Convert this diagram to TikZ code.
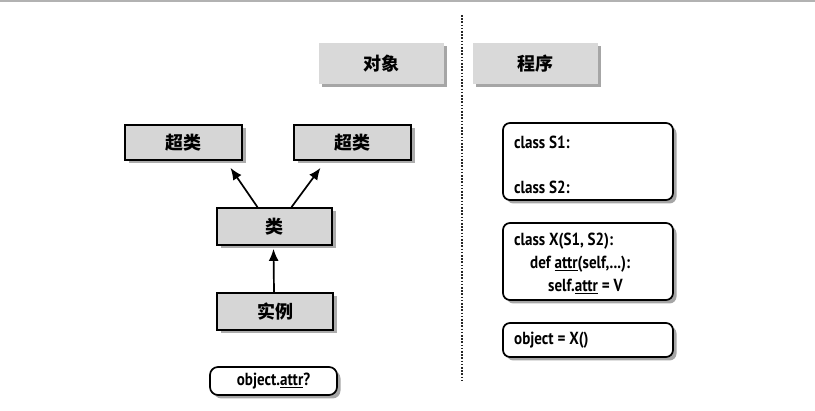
\documentclass[tikz,border=0pt]{standalone}
\usepackage{fontspec}
\setmainfont{PT Sans}[FakeStretch=0.86]
\newfontfamily\cjk{Noto Sans CJK SC}
\usetikzlibrary{shadows,arrows.meta}
\begin{document}
\begin{tikzpicture}[x=1pt,y=-1pt,
  headbox/.style={fill=gray!30, minimum width=125pt, minimum height=41pt, inner sep=0pt,
    drop shadow={shadow xshift=2.5pt, shadow yshift=-2.5pt, opacity=0.7},
    font=\cjk\bfseries\fontsize{18}{18}\selectfont},
  graybox/.style={draw=black, line width=1.7pt, fill=gray!32, inner sep=0pt,
    drop shadow={shadow xshift=3.5pt, shadow yshift=-3.5pt, opacity=0.65},
    font=\cjk\bfseries\fontsize{18}{18}\selectfont},
  codebox/.style={draw=black, line width=1.7pt, fill=white, rounded corners=7pt, inner sep=0pt,
    minimum width=170pt,
    drop shadow={shadow xshift=3.5pt, shadow yshift=-3.5pt, opacity=0.7}},
  codetext/.style={anchor=west, inner sep=0pt, font=\bfseries\fontsize{17.5}{17.5}\selectfont},
  arr/.style={line width=1.7pt, -{Latex[length=12pt,width=10pt]}},
  dotline/.style={line width=1.8pt, dash pattern=on 1.6pt off 1.6pt, gray!30!black}
]
\useasboundingbox (0,0) rectangle (815,411);
\draw[gray!60, line width=2pt] (0,1) -- (815,1);
\coordinate (dtop) at (462,15);
\coordinate (dbot) at (462,382);
\draw[dotline] (dtop) -- (dbot);

\node[headbox] (hobj) at (381.5,64) {对象};
\node[headbox] (hprog) at (535.5,64) {程序};

\node[graybox, minimum width=117pt, minimum height=35pt] (sup1) at (183.5,142.5) {超类};
\node[graybox, minimum width=117pt, minimum height=35pt] (sup2) at (352.5,142.5) {超类};
\node[graybox, minimum width=115pt, minimum height=37pt] (cls) at (274.5,226.5) {类};
\node[graybox, minimum width=116pt, minimum height=37pt] (inst) at (275,311.5) {实例};
\node[codebox, minimum width=127pt, minimum height=28pt, rounded corners=8pt,
  font=\bfseries\fontsize{17.5}{17.5}\selectfont] (query) at (273.5,381) {object.\underline{attr}?};

\draw[arr] ([xshift=-17pt]cls.north) -- ([xshift=47pt,yshift=-7pt]sup1.south);
\draw[arr] ([xshift=17pt]cls.north) -- ([xshift=-32pt,yshift=-7pt]sup2.south);
\draw[arr] ([xshift=-1pt]inst.north) -- ([xshift=-1pt,yshift=-3pt]cls.south);

\node[codebox, minimum height=77pt] (codeS) at (588,161.5) {};
\node[codebox, minimum height=77pt] (codeX) at (588,261.5) {};
\node[codebox, minimum height=34pt] (codeO) at (588,340) {};

\node[codetext] (tS1) at (514,142) {class S1:};
\node[codetext] (tS2) at (514,187) {class S2:};
\node[codetext] (tX) at (514,241) {class X(S1, S2):};
\node[codetext] (tdef) at (530,264) {def \underline{attr}(self,...):};
\node[codetext] (tself) at (548,286) {self.\underline{attr} = V};
\node[codetext] (tobj) at (514,340) {object = X()};
\end{tikzpicture}
\end{document}
